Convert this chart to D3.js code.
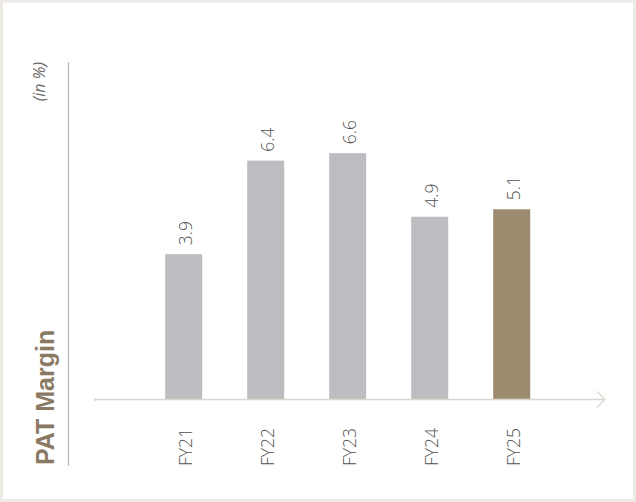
<!DOCTYPE html>
<html>
<head>
<meta charset="utf-8">
<script src="https://cdn.jsdelivr.net/npm/d3@7/dist/d3.min.js"></script>
<style>
  html, body { margin: 0; padding: 0; background: #ffffff; }
  svg { display: block; }
</style>
</head>
<body>
<script>
// PAT margin by fiscal year, in percent
const categories = ["FY21", "FY22", "FY23", "FY24", "FY25"];
const values = [3.9, 6.4, 6.6, 4.9, 5.1];
const highlight = "FY25";
const title = "PAT Margin";
const unitNote = "(in %)";

const W = 636, H = 502;
const svg = d3.select("body").append("svg")
  .attr("width", W).attr("height", H);

// Outer frame
svg.append("rect")
  .attr("x", 1.5).attr("y", 1).attr("width", W - 3).attr("height", H - 2.5)
  .attr("fill", "none").attr("stroke", "#eeeae5").attr("stroke-width", 3);

const x = d3.scaleBand()
  .domain(categories)
  .range([142.7, 552.7])
  .paddingInner(0.549)
  .paddingOuter(0.2745);

const y = d3.scaleLinear().domain([0, 10]).range([400, 26]);

// Bars
svg.append("g").selectAll("rect")
  .data(categories)
  .join("rect")
  .attr("x", d => x(d))
  .attr("width", x.bandwidth())
  .attr("y", (d, i) => y(values[i]))
  .attr("height", (d, i) => y(0) - y(values[i]))
  .attr("fill", d => d === highlight ? "#9c8b6e" : "#bcbdc0");

// Baseline with arrow head
const base = y(0) - 0.5;
const axis = svg.append("g")
  .attr("stroke", "#dcd7ce").attr("stroke-width", 1.3).attr("fill", "none");
axis.append("line").attr("x1", 95).attr("x2", 605).attr("y1", base).attr("y2", base);
axis.append("path").attr("d", `M597,${base - 8} L605,${base} L597,${base + 8}`);
axis.append("line").attr("x1", 95).attr("x2", 95).attr("y1", base - 1.5).attr("y2", base + 1.5);

// Value labels, rotated, above each bar
svg.append("g").selectAll("text")
  .data(categories)
  .join("text")
  .attr("transform", (d, i) =>
    `translate(${x(d) + x.bandwidth() / 2 + 1.5},${y(values[i]) - 9}) rotate(-90)`)
  .attr("dominant-baseline", "central")
  .attr("font-family", "'Open Sans', 'Liberation Sans', sans-serif")
  .attr("font-weight", 300)
  .attr("font-size", 17.5)
  .attr("fill", "#505050")
  .text((d, i) => values[i].toFixed(1));

// Category labels, rotated, under the baseline
svg.append("g").selectAll("text")
  .data(categories)
  .join("text")
  .attr("transform", d =>
    `translate(${x(d) + x.bandwidth() / 2 + 1},466) rotate(-90)`)
  .attr("dominant-baseline", "central")
  .attr("font-family", "'Open Sans', 'Liberation Sans', sans-serif")
  .attr("font-weight", 300)
  .attr("font-size", 17.5)
  .attr("fill", "#505050")
  .text(d => d);

// Left rule
svg.append("line")
  .attr("x1", 68.5).attr("x2", 68.5).attr("y1", 62).attr("y2", 466)
  .attr("stroke", "#b4b5bc").attr("stroke-width", 1.2);

// Title
svg.append("text")
  .attr("transform", "translate(54,465) rotate(-90)")
  .attr("font-family", "'Liberation Sans', Arial, sans-serif")
  .attr("font-weight", "bold")
  .attr("font-size", 25)
  .attr("fill", "#8a7a63")
  .text(title);

// Unit note
svg.append("text")
  .attr("transform", "translate(45,62) rotate(-90)")
  .attr("text-anchor", "end")
  .attr("font-family", "'Open Sans', 'Liberation Sans', sans-serif")
  .attr("font-style", "italic")
  .attr("font-size", 16)
  .attr("fill", "#6a6a6a")
  .text(unitNote);
</script>
</body>
</html>
